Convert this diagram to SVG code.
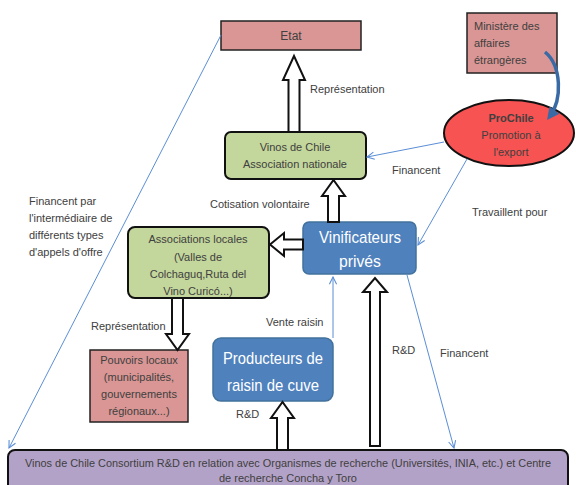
<svg xmlns="http://www.w3.org/2000/svg" width="576" height="485" viewBox="0 0 576 485">
<defs>
<style>
text{font-family:"Liberation Sans",Arial,sans-serif;font-size:11px;fill:#404040}
.c{text-anchor:middle}
.pink{fill:#d99694;stroke:#222;stroke-width:1.5}
.green{fill:#c3d69b;stroke:#111;stroke-width:2}
.blue{fill:#4f81bd;stroke:#41719c;stroke-width:1.5}
.thin{fill:none;stroke:#5b8ed6;stroke-width:1;marker-end:url(#ah)}
.block{fill:#fff;stroke:#111;stroke-width:2;stroke-linejoin:miter}
.w{fill:#fff;font-size:17px}
</style>
<marker id="ah" viewBox="0 0 10 10" refX="9" refY="5" markerWidth="9" markerHeight="9" orient="auto" markerUnits="userSpaceOnUse">
<path d="M1,1 L9,5 L1,9" fill="none" stroke="#5b8ed6" stroke-width="1.2"/>
</marker>
<marker id="bh" viewBox="0 0 10 10" refX="6" refY="5" markerWidth="3.5" markerHeight="3.5" orient="auto">
<path d="M0,0 L10,5 L0,10 Z" fill="#3a6aa5"/>
</marker>
</defs>
<rect width="576" height="485" fill="#fff"/>

<g id="etat">
<rect class="pink" x="221" y="21" width="140" height="29"/>
<text class="c" x="291" y="40" style="font-size:12px">Etat</text>
</g>

<g id="ministere">
<rect class="pink" x="467" y="13" width="90" height="60"/>
<text x="474" y="30">Ministère des</text>
<text x="474" y="47">affaires</text>
<text x="474" y="64">étrangères</text>
</g>

<g id="prochile">
<ellipse cx="509" cy="133" rx="65" ry="33" fill="#f65352" stroke="#111" stroke-width="2"/>
<text class="c" x="511" y="122" style="font-weight:bold">ProChile</text>
<text class="c" x="511" y="139">Promotion à</text>
<text class="c" x="511" y="156">l'export</text>
</g>

<g id="vinos-assoc">
<rect class="green" x="225" y="132" width="141" height="47" rx="6"/>
<text class="c" x="295" y="151">Vinos de Chile</text>
<text class="c" x="295" y="168">Association nationale</text>
</g>

<g id="vinificateurs">
<rect class="blue" x="303" y="222" width="113" height="52" rx="6"/>
<text class="c w" x="360" y="243" textLength="82" lengthAdjust="spacingAndGlyphs">Vinificateurs</text>
<text class="c w" x="360" y="267" textLength="42" lengthAdjust="spacingAndGlyphs">privés</text>
</g>

<g id="assoc-locales">
<rect class="green" x="128" y="227" width="141" height="71" rx="7"/>
<text class="c" x="198" y="243">Associations locales</text>
<text class="c" x="198" y="261">(Valles de</text>
<text class="c" x="198" y="278">Colchaguq,Ruta del</text>
<text class="c" x="198" y="295">Vino Curicó...)</text>
</g>

<g id="pouvoirs">
<rect class="pink" x="90" y="350" width="98" height="72"/>
<text class="c" x="139" y="364">Pouvoirs locaux</text>
<text class="c" x="139" y="381">(municipalités,</text>
<text class="c" x="139" y="398">gouvernements</text>
<text class="c" x="139" y="415">régionaux...)</text>
</g>

<g id="producteurs">
<rect class="blue" x="213" y="338" width="120" height="63" rx="8"/>
<text class="c w" x="273" y="364" textLength="100" lengthAdjust="spacingAndGlyphs">Producteurs de</text>
<text class="c w" x="273" y="391" textLength="92" lengthAdjust="spacingAndGlyphs">raisin de cuve</text>
</g>

<g id="consortium">
<rect x="8" y="450" width="560" height="50" rx="7" fill="#b3a2c7" stroke="#111" stroke-width="2"/>
<text class="c" x="288" y="467" textLength="526" lengthAdjust="spacingAndGlyphs">Vinos de Chile Consortium R&amp;D en relation avec Organismes de recherche (Universités, INIA, etc.) et Centre</text>
<text class="c" x="288" y="482">de recherche Concha y Toro</text>
</g>

<g id="connectors">
<path class="thin" d="M221,35 L9,448"/>
<path class="thin" d="M444,142 L367,157"/>
<path class="thin" d="M467,159 L418,245"/>
<path class="thin" d="M407,275 L454,448"/>
<path class="thin" d="M333,338 L333,277"/>
<path d="M545,52 C562,66 562,100 550,116" fill="none" stroke="#3a6aa5" stroke-width="3.5" marker-end="url(#bh)"/>
<polygon class="block" points="288.5,132 288.5,80 283,80 294,56 305,80 299.5,80 299.5,132"/>
<polygon class="block" points="328,222 328,196 322,196 333.5,180 345,196 339,196 339,222"/>
<polygon class="block" points="303,239.5 284,239.5 284,233 270,244.5 284,256 284,249.5 303,249.5"/>
<polygon class="block" points="172,298 172,334 166,334 177.5,350 189,334 183,334 183,298"/>
<polygon class="block" points="277,450 277,418 271,418 282.5,402 294,418 288,418 288,450"/>
<polygon class="block" points="370,446 370,292 363,292 375,278 387,292 380,292 380,446"/>
<text x="310" y="93">Représentation</text>
<text x="210" y="208">Cotisation volontaire</text>
<text x="392" y="174">Financent</text>
<text x="472" y="216">Travaillent pour</text>
<text x="29" y="205">Financent par</text>
<text x="29" y="222">l'intermédiaire de</text>
<text x="29" y="239">différents types</text>
<text x="29" y="256">d'appels d'offre</text>
<text x="91" y="330">Représentation</text>
<text x="266" y="326">Vente raisin</text>
<text x="236" y="418">R&amp;D</text>
<text x="392" y="354">R&amp;D</text>
<text x="440" y="357">Financent</text>
</g>
</svg>
